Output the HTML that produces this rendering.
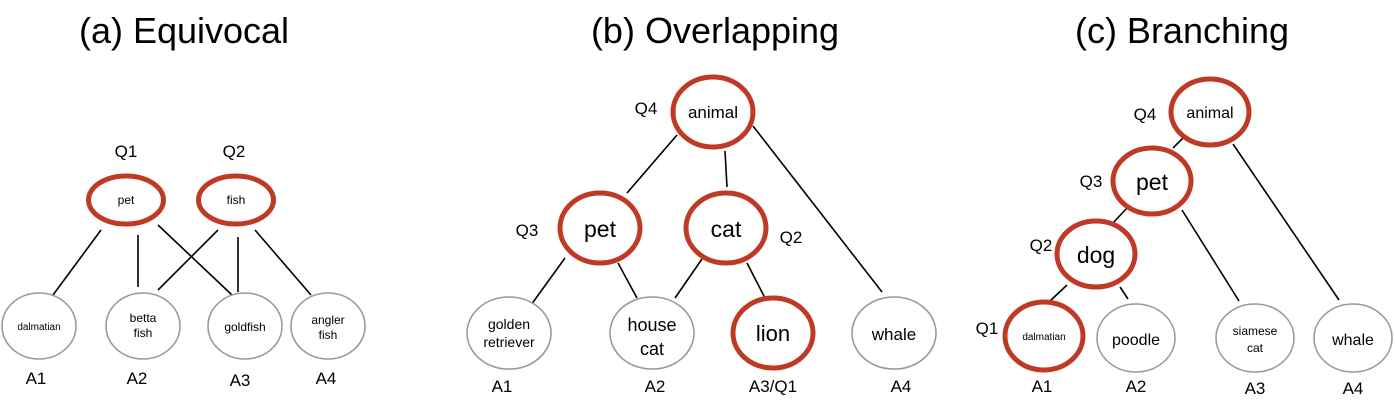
<!DOCTYPE html>
<html><head><meta charset="utf-8"><style>
html,body{margin:0;padding:0;background:#fff;}
svg{display:block;font-family:"Liberation Sans",Arial,sans-serif;}
.r{fill:#fff;stroke:#bf3a24;stroke-width:5;}
.g{fill:#fff;stroke:#9a9a9a;stroke-width:1.6;}
.l{stroke:#000;stroke-width:1.6;}
.t{text-anchor:middle;fill:#000;}
.lab{font-size:17px;text-anchor:middle;fill:#000;}
.title{font-size:36px;text-anchor:middle;fill:#000;}
</style></head><body>
<svg width="1395" height="404" viewBox="0 0 1395 404">
<g>
<text class="title" x="184" y="43">(a) Equivocal</text>
<line class="l" x1="101" y1="230" x2="53" y2="295"/><line class="l" x1="138" y1="235" x2="138" y2="287"/>
<line class="l" x1="158" y1="225" x2="232" y2="295"/><line class="l" x1="218" y1="230" x2="158" y2="290"/>
<line class="l" x1="238" y1="237" x2="238" y2="292"/><line class="l" x1="255" y1="230" x2="311" y2="295"/>
<ellipse class="r" cx="126" cy="200" rx="37.5" ry="24"/>
<ellipse class="r" cx="236" cy="200" rx="37.5" ry="24"/>
<text class="t" x="126" y="204" font-size="12">pet</text><text class="t" x="236" y="204" font-size="12">fish</text>
<text class="lab" x="126" y="157">Q1</text><text class="lab" x="234" y="157">Q2</text>
<ellipse class="g" cx="39" cy="326" rx="37" ry="33"/>
<ellipse class="g" cx="143" cy="326" rx="37" ry="33"/>
<ellipse class="g" cx="245" cy="326" rx="37" ry="33"/>
<ellipse class="g" cx="328" cy="326" rx="37" ry="33"/>
<text class="t" x="39" y="330" font-size="10">dalmatian</text>
<text class="t" x="143" y="322" font-size="12">betta</text><text class="t" x="143" y="337" font-size="12">fish</text>
<text class="t" x="245" y="331" font-size="12">goldfish</text>
<text class="t" x="328" y="324" font-size="12">angler</text><text class="t" x="328" y="339" font-size="12">fish</text>
<text class="lab" x="36" y="384">A1</text><text class="lab" x="137" y="384">A2</text><text class="lab" x="240" y="386">A3</text><text class="lab" x="326" y="384">A4</text>
</g>
<g>
<text class="title" x="715" y="43">(b) Overlapping</text>
<line class="l" x1="677" y1="135" x2="627" y2="193"/><line class="l" x1="725" y1="151" x2="727" y2="187"/>
<line class="l" x1="753" y1="126" x2="882" y2="292"/><line class="l" x1="565" y1="258" x2="531" y2="305"/>
<line class="l" x1="618" y1="263" x2="637" y2="298"/><line class="l" x1="702" y1="259" x2="675" y2="298"/>
<line class="l" x1="747" y1="263" x2="765" y2="298"/>
<ellipse class="r" cx="713" cy="112" rx="40" ry="35"/>
<ellipse class="r" cx="600" cy="228" rx="40" ry="35"/>
<ellipse class="r" cx="726" cy="228" rx="40" ry="35"/>
<ellipse class="r" cx="773" cy="333" rx="40" ry="35"/>
<ellipse class="g" cx="509" cy="333" rx="42" ry="36"/>
<ellipse class="g" cx="652" cy="333" rx="42" ry="36"/>
<ellipse class="g" cx="894" cy="333" rx="42" ry="36"/>
<text class="t" x="713" y="118" font-size="17">animal</text>
<text class="t" x="600" y="237" font-size="23">pet</text><text class="t" x="726" y="237" font-size="23">cat</text>
<text class="t" x="773" y="341" font-size="22">lion</text>
<text class="t" x="509" y="329" font-size="14">golden</text><text class="t" x="509" y="347" font-size="14">retriever</text>
<text class="t" x="652" y="331" font-size="18">house</text><text class="t" x="652" y="355" font-size="18">cat</text>
<text class="t" x="894" y="340" font-size="17">whale</text>
<text class="lab" x="646" y="114">Q4</text><text class="lab" x="527" y="236">Q3</text><text class="lab" x="791" y="243">Q2</text>
<text class="lab" x="502" y="392">A1</text><text class="lab" x="655" y="392">A2</text><text class="lab" x="773" y="392">A3/Q1</text><text class="lab" x="901" y="392">A4</text>
</g>
<g>
<text class="title" x="1182" y="43">(c) Branching</text>
<line class="l" x1="1183" y1="138" x2="1173" y2="148"/><line class="l" x1="1128" y1="207" x2="1112" y2="224"/>
<line class="l" x1="1067" y1="285" x2="1050" y2="301"/><line class="l" x1="1120" y1="287" x2="1128" y2="299"/>
<line class="l" x1="1182" y1="210" x2="1239" y2="301"/><line class="l" x1="1233" y1="144" x2="1339" y2="300"/>
<ellipse class="r" cx="1210" cy="112" rx="39" ry="33"/>
<ellipse class="r" cx="1152" cy="181" rx="39" ry="33"/>
<ellipse class="r" cx="1096" cy="254" rx="39" ry="33"/>
<ellipse class="r" cx="1044" cy="336" rx="39" ry="34"/>
<ellipse class="g" cx="1136" cy="338" rx="39" ry="34"/>
<ellipse class="g" cx="1255" cy="338" rx="39" ry="34"/>
<ellipse class="g" cx="1353" cy="338" rx="39" ry="34"/>
<text class="t" x="1210" y="118" font-size="16">animal</text>
<text class="t" x="1152" y="190" font-size="23">pet</text>
<text class="t" x="1096" y="263" font-size="23">dog</text>
<text class="t" x="1044" y="340" font-size="10">dalmatian</text>
<text class="t" x="1136" y="345" font-size="16">poodle</text>
<text class="t" x="1255" y="335" font-size="12">siamese</text><text class="t" x="1255" y="352" font-size="12">cat</text>
<text class="t" x="1353" y="345" font-size="16">whale</text>
<text class="lab" x="1145" y="120">Q4</text><text class="lab" x="1091" y="187">Q3</text><text class="lab" x="1041" y="251">Q2</text><text class="lab" x="987" y="334">Q1</text>
<text class="lab" x="1042" y="392">A1</text><text class="lab" x="1136" y="392">A2</text><text class="lab" x="1255" y="394">A3</text><text class="lab" x="1353" y="394">A4</text>
</g>
</svg>
</body></html>
